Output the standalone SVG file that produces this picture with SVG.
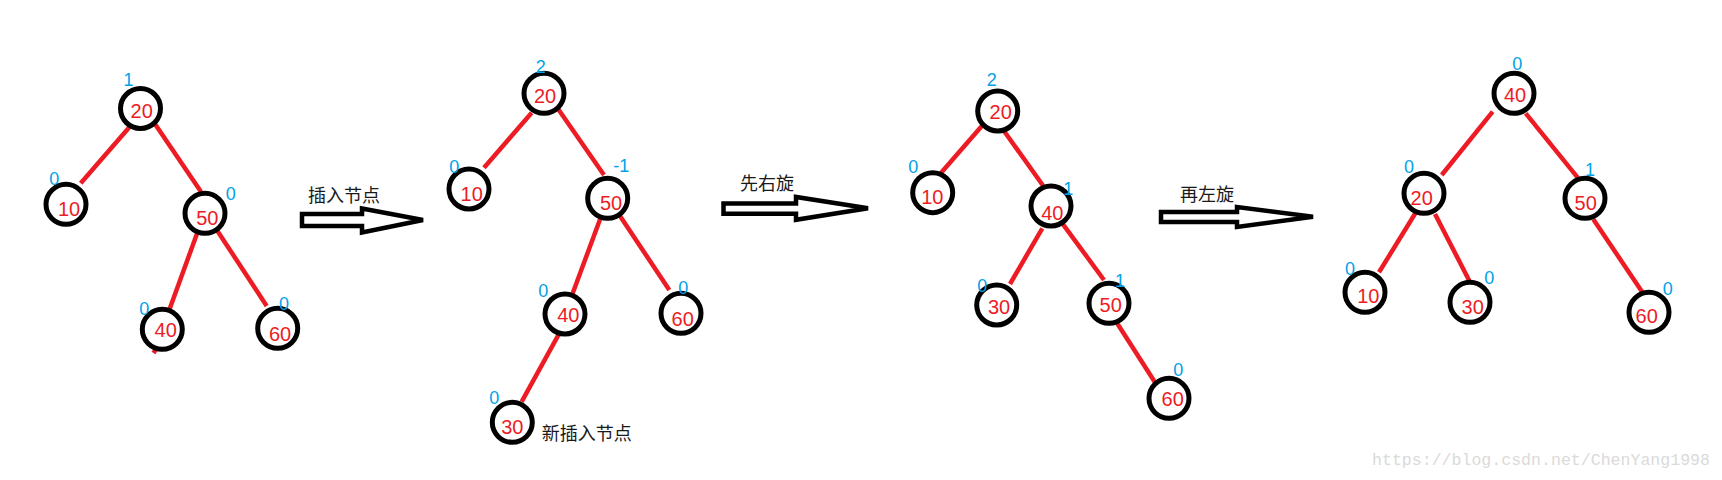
<svg xmlns="http://www.w3.org/2000/svg" width="1722" height="480" viewBox="0 0 1722 480">
<style>
.e{stroke:#ed1c24;stroke-width:4.5;stroke-linecap:butt;fill:none}
.n circle{fill:#fff;stroke:#000;stroke-width:5}
.v{font-family:"Liberation Sans",Arial,sans-serif;font-size:20px;fill:#ed1c24;text-anchor:middle}
.b{font-family:"Liberation Sans",Arial,sans-serif;font-size:18px;fill:#00a2e8;text-anchor:middle}
.c{font-family:"Liberation Sans","Noto Sans CJK SC",sans-serif;font-size:18px;fill:#1a1a1a}
.ar{fill:#fff;stroke:#000;stroke-width:4.5;stroke-linejoin:miter}
</style>
<rect width="1722" height="480" fill="#fff"/>
<g id="connectors">
<line class="e" x1="129.3" y1="127.3" x2="80.7" y2="183.3"/>
<line class="e" x1="155" y1="124" x2="201" y2="191.7"/>
<line class="e" x1="197.7" y1="231.7" x2="169" y2="310.7"/>
<line class="e" x1="217.3" y1="230.7" x2="266.7" y2="306"/>
<line class="e" x1="156.7" y1="348" x2="153.5" y2="353"/>
<line class="e" x1="531.7" y1="112.7" x2="484" y2="167.7"/>
<line class="e" x1="558.3" y1="109.3" x2="604" y2="175"/>
<line class="e" x1="601" y1="216.7" x2="571.7" y2="296"/>
<line class="e" x1="620" y1="216" x2="669.3" y2="290"/>
<line class="e" x1="559.3" y1="333.3" x2="521.7" y2="401.7"/>
<line class="e" x1="982.7" y1="125" x2="938.3" y2="176"/>
<line class="e" x1="1001.7" y1="127.7" x2="1043.3" y2="186"/>
<line class="e" x1="1042.3" y1="228.3" x2="1010" y2="284"/>
<line class="e" x1="1062.3" y1="223.3" x2="1104" y2="280"/>
<line class="e" x1="1115.7" y1="321" x2="1156.7" y2="385"/>
<line class="e" x1="1492.7" y1="111.7" x2="1441.7" y2="175"/>
<line class="e" x1="1525.7" y1="113.3" x2="1578.3" y2="178.3"/>
<line class="e" x1="1416.7" y1="211" x2="1379" y2="272.3"/>
<line class="e" x1="1435" y1="214" x2="1469.3" y2="280.7"/>
<line class="e" x1="1593.3" y1="219.3" x2="1642.7" y2="292.7"/>
</g>
<g id="arrows">
<polygon class="ar" points="302,214 362,214 362,208.5 423,220 362,232.5 362,226 302,226"/>
<polygon class="ar" points="723.5,203.5 796,203.5 796,197 868,208.3 796,219.8 796,213.7 723.5,213.7"/>
<polygon class="ar" points="1161,212 1237,212 1237,207 1313,216.7 1237,227 1237,222 1161,222"/>
</g>
<g id="labels">
<text class="c" x="308" y="201.5">插入节点</text>
<text class="c" x="740" y="190">先右旋</text>
<text class="c" x="1180" y="201">再左旋</text>
<text class="c" x="541.7" y="440">新插入节点</text>
</g>
<g id="t1-20" class="n"><circle cx="140.5" cy="108.5" r="20"/><text class="v" x="141.7" y="117.5">20</text><text class="b" x="128.5" y="86">1</text></g>
<g id="t1-10" class="n"><circle cx="66" cy="204.3" r="20"/><text class="v" x="69" y="216.3">10</text><text class="b" x="54.3" y="185">0</text></g>
<g id="t1-50" class="n"><circle cx="205" cy="213.3" r="20"/><text class="v" x="207.3" y="225.3">50</text><text class="b" x="230.7" y="200">0</text></g>
<g id="t1-40" class="n"><circle cx="162.3" cy="329.3" r="20"/><text class="v" x="165.7" y="337">40</text><text class="b" x="144.3" y="315">0</text></g>
<g id="t1-60" class="n"><circle cx="277.7" cy="328.3" r="20"/><text class="v" x="280" y="341.3">60</text><text class="b" x="284" y="310">0</text></g>
<g id="t2-20" class="n"><circle cx="544" cy="93.3" r="20"/><text class="v" x="545" y="103">20</text><text class="b" x="540.7" y="73.3">2</text></g>
<g id="t2-10" class="n"><circle cx="469" cy="189" r="20"/><text class="v" x="471.7" y="201">10</text><text class="b" x="454.3" y="173.3">0</text></g>
<g id="t2-50" class="n"><circle cx="607.7" cy="198.3" r="20"/><text class="v" x="611" y="210.3">50</text><text class="b" x="621.3" y="171.7">-1</text></g>
<g id="t2-40" class="n"><circle cx="565" cy="314" r="20"/><text class="v" x="568.3" y="322">40</text><text class="b" x="543.3" y="297.3">0</text></g>
<g id="t2-60" class="n"><circle cx="681" cy="313.3" r="20"/><text class="v" x="682.7" y="326.3">60</text><text class="b" x="683.3" y="294">0</text></g>
<g id="t2-30" class="n"><circle cx="512.3" cy="422.3" r="20"/><text class="v" x="512.3" y="434.3">30</text><text class="b" x="494.3" y="404">0</text></g>
<g id="t3-20" class="n"><circle cx="997.7" cy="111" r="20"/><text class="v" x="1000.7" y="118.7">20</text><text class="b" x="991.7" y="86">2</text></g>
<g id="t3-10" class="n"><circle cx="932.7" cy="192.7" r="20"/><text class="v" x="932.3" y="203.7">10</text><text class="b" x="913.3" y="173.3">0</text></g>
<g id="t3-40" class="n"><circle cx="1051" cy="206" r="20"/><text class="v" x="1052.3" y="219.7">40</text><text class="b" x="1068.3" y="195">1</text></g>
<g id="t3-30" class="n"><circle cx="996.7" cy="305" r="20"/><text class="v" x="999" y="313.7">30</text><text class="b" x="982.3" y="291.7">0</text></g>
<g id="t3-50" class="n"><circle cx="1109" cy="303.3" r="20"/><text class="v" x="1110.7" y="312">50</text><text class="b" x="1120" y="286.7">1</text></g>
<g id="t3-60" class="n"><circle cx="1169" cy="398.3" r="20"/><text class="v" x="1172.7" y="406.3">60</text><text class="b" x="1178.3" y="376">0</text></g>
<g id="t4-40" class="n"><circle cx="1514" cy="93.3" r="20"/><text class="v" x="1515" y="102">40</text><text class="b" x="1517.3" y="70">0</text></g>
<g id="t4-20" class="n"><circle cx="1424" cy="193.3" r="20"/><text class="v" x="1421.7" y="205.3">20</text><text class="b" x="1409" y="172.7">0</text></g>
<g id="t4-50" class="n"><circle cx="1585" cy="198.3" r="20"/><text class="v" x="1585.7" y="210.3">50</text><text class="b" x="1590" y="176">1</text></g>
<g id="t4-10" class="n"><circle cx="1365" cy="292.3" r="20"/><text class="v" x="1368.3" y="303">10</text><text class="b" x="1350" y="275">0</text></g>
<g id="t4-30" class="n"><circle cx="1470" cy="302.3" r="20"/><text class="v" x="1472.7" y="313.7">30</text><text class="b" x="1489.3" y="284">0</text></g>
<g id="t4-60" class="n"><circle cx="1649" cy="312.3" r="20"/><text class="v" x="1646.7" y="323">60</text><text class="b" x="1667.7" y="295">0</text></g>
<text x="1372" y="465" font-family="'Liberation Mono',monospace" font-size="16.5" fill="#dadada" textLength="338" lengthAdjust="spacingAndGlyphs">https://blog.csdn.net/ChenYang1998</text>
</svg>
